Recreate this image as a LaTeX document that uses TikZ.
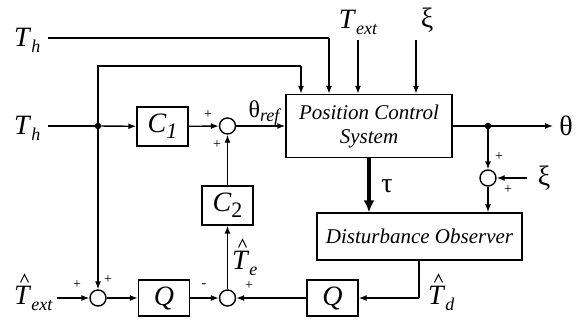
\documentclass[tikz,border=0pt]{standalone}
\usepackage{fontspec}
\setmainfont{Liberation Serif}
\usetikzlibrary{arrows.meta,calc}
\newcommand{\Tlab}[1]{\textit{T}\raisebox{-0.22em}{\fontsize{18}{18}\selectfont\itshape #1}}
\tikzset{
  x=1pt,y=-1pt,
  wire/.style={line width=1.4pt},
  arr/.style={wire,-{Latex[length=8pt,width=6pt]}},
  blk/.style={draw,line width=1.4pt,minimum width=51pt,minimum height=39pt,inner sep=0pt,font=\fontsize{28}{28}\selectfont\itshape},
  bigblk/.style={draw,line width=1.4pt,inner sep=0pt,font=\fontsize{21}{24}\selectfont\itshape,align=center},
  sumc/.style={draw,circle,line width=1.4pt,minimum size=16pt,inner sep=0pt},
  lab/.style={font=\fontsize{28}{28}\selectfont,inner sep=0pt},
  sgn/.style={font=\fontsize{14}{14}\selectfont,inner sep=0pt},
  dotc/.style={circle,fill,minimum size=6.5pt,inner sep=0pt},
  hatc/.style={line width=1pt,line join=miter},
}
\begin{document}
\begin{tikzpicture}
\useasboundingbox (0,0) rectangle (578,322);
% blocks
\node[bigblk,minimum width=166pt,minimum height=63pt] (pcs) at (369,126) {Position Control\\System};
\node[bigblk,minimum width=205pt,minimum height=47pt] (do) at (419.5,236.5) {Disturbance Observer};
\node[blk] (c1) at (162.5,126.5) {C\raisebox{-0.2em}{\fontsize{22}{22}\selectfont 1}};
\node[blk] (c2) at (227.5,205.5) {C\raisebox{-0.2em}{\fontsize{22}{22}\selectfont\upshape 2}};
\node[blk,minimum height=36pt] (q1) at (164,298) {Q};
\node[blk,minimum height=36pt] (q2) at (332.5,298) {Q};
\node[sumc] (s1) at (227.5,126) {};
\node[sumc] (s2) at (227.5,298) {};
\node[sumc] (s3) at (98,298) {};
\node[sumc] (s4) at (488,178) {};
\node[dotc] (j1) at (98,126) {};
\node[dotc] (j2) at (488,126) {};
% labels
\node[lab,anchor=west] (th1) at (14,40) {\Tlab{h}};
\node[lab,anchor=west] (th2) at (14,128) {\Tlab{h}};
\node[lab] (text) at (358,22) {\Tlab{ext}};
\node[lab] (xi1) at (427,20) {ξ};
\node[lab] (theta) at (566,126) {θ};
\node[lab] (xi2) at (544,178) {ξ};
\node[lab] (tau) at (387,186) {τ};
\node[lab,anchor=west] (texth) at (14,298) {\Tlab{ext}};
\node[lab,anchor=west] (teh) at (232,263) {\Tlab{e}};
\node[lab,anchor=west] (tdh) at (428,298) {\Tlab{d}};
\node[font=\fontsize{24}{24}\selectfont,inner sep=0pt] (thref) at (264,113) {θ\raisebox{-0.2em}{\fontsize{18}{18}\selectfont\itshape ref}};
% hats
\foreach \n in {texth,teh,tdh}{
  \draw[hatc] ($(\n.north west)+(6.5,-3)$) -- ++(4,-8) -- ++(4,8);
}
% coordinates
\coordinate (a1) at (329,38);
\coordinate (a2) at (98,66);
\coordinate (a3) at (301,66);
\coordinate (textend) at (358,40);
\coordinate (xiend) at (416,40);
\coordinate (thend) at (553,126);
\coordinate (xi2end) at (527,178);
\coordinate (teend) at (57,298);
\coordinate (tdc) at (419,298);
% connectors
\draw[wire] (48,38) -- (a1);
\draw[arr] (a1) -- (a1 |- pcs.north);
\draw[wire] (j1) -- (a2) -- (a3);
\draw[arr] (a3) -- (a3 |- pcs.north);
\draw[arr] (textend) -- (textend |- pcs.north);
\draw[arr] (xiend) -- (xiend |- pcs.north);
\draw[wire] (48,126) -- (j1);
\draw[arr] (j1) -- (c1);
\draw[arr] (c1) -- (s1);
\draw[arr] (s1) -- (pcs);
\draw[wire] (pcs.east) -- (j2);
\draw[arr] (j2) -- (thend);
\draw[arr] (j2) -- (s4);
\draw[arr] (xi2end) -- (s4);
\draw[arr] (s4) -- (s4 |- do.north);
\draw[-{Latex[length=12pt,width=11pt]},line width=4pt] (pcs.south) -- (pcs.south |- do.north);
\draw[wire] (tdc |- do.south) -- (tdc);
\draw[arr] (tdc) -- (q2);
\draw[arr] (q2) -- (s2);
\draw[arr] (s2) -- (c2);
\draw[arr] (c2) -- (s1);
\draw[arr] (teend) -- (s3);
\draw[arr] (j1) -- (s3);
\draw[arr] (s3) -- (q1);
\draw[arr] (q1) -- (s2);
% signs
\node[sgn] (p1) at (208,115) {+};
\node[sgn] (p2) at (217,145) {+};
\node[sgn] (p3) at (499,157) {+};
\node[sgn] (p4) at (508,190) {+};
\node[sgn] (p5) at (77,285) {+};
\node[sgn] (p6) at (108,280) {+};
\node[sgn] (p7) at (249,286) {+};
\node[sgn] (m1) at (204,286) {-};
\end{tikzpicture}
\end{document}
